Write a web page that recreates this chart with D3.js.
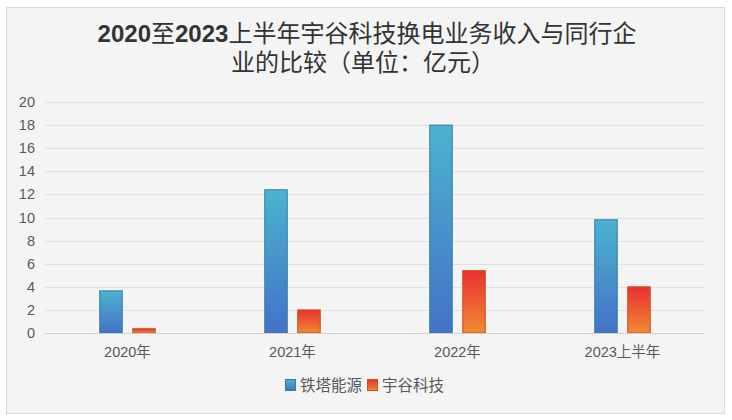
<!DOCTYPE html>
<html>
<head>
<meta charset="utf-8">
<script src="https://cdn.jsdelivr.net/npm/d3@7"></script>
<style>
  body { margin: 0; background: #fff; }
  svg text { font-family: "Liberation Sans", "Noto Sans CJK SC", sans-serif; }
</style>
</head>
<body>
<svg id="chart" width="732" height="420"></svg>
<script>
// data
var categories = ["2020年", "2021年", "2022年", "2023上半年"];
var seriesNames = ["铁塔能源", "宇谷科技"];
var tieta = [3.65, 12.4, 18.0, 9.8];
var yugu = [0.37, 2.0, 5.4, 4.0];
var yTicks = [0, 2, 4, 6, 8, 10, 12, 14, 16, 18, 20];
var titleLines = ["2020至2023上半年宇谷科技换电业务收入与同行企", "业的比较（单位：亿元）"];

var svg = d3.select("#chart"),
    margin = { left: 45, right: 27, top: 102, bottom: 87 },
    width = 732 - margin.left - margin.right,
    height = 420 - margin.top - margin.bottom;

var defs = svg.append("defs");
function addGrad(id, top, bottom) {
    var g = defs.append("linearGradient").attr("id", id)
        .attr("x1", 0).attr("y1", 0).attr("x2", 0).attr("y2", 1);
    g.append("stop").attr("offset", "0%").attr("stop-color", top);
    g.append("stop").attr("offset", "100%").attr("stop-color", bottom);
}
addGrad("gBlue", "#4bb3cf", "#4472c8");
addGrad("gOrange", "#ea3030", "#f08a33");

var series = [
    { name: seriesNames[0], values: tieta, fill: "url(#gBlue)", stroke: "#2f7fa3" },
    { name: seriesNames[1], values: yugu, fill: "url(#gOrange)", stroke: "#cf4e1c" }
];

// frame
svg.append("rect")
    .attr("x", 6.5).attr("y", 7.5).attr("width", 718).attr("height", 406)
    .attr("fill", "#f4f4f4").attr("stroke", "#d9d9d9").attr("stroke-width", 1);

// title
var title = svg.append("text")
    .attr("text-anchor", "middle")
    .attr("fill", "#333")
    .style("font-size", "24px");
titleLines.forEach(function (line, i) {
    var t = title.append("tspan")
        .attr("x", i === 0 ? 367 : 363)
        .attr("y", i === 0 ? 42 : 71);
    line.split(/(\d+)/).filter(function (s) { return s.length; }).forEach(function (part) {
        t.append("tspan")
            .style("font-weight", /^\d+$/.test(part) ? "bold" : "normal")
            .text(part);
    });
});

var main = svg.append("g").attr("transform", "translate(" + margin.left + "," + margin.top + ")");

var x0 = d3.scaleBand().domain(categories).range([0, width]);
var y = d3.scaleLinear().domain([0, 20]).range([height, 0]);
var barW = 22.5, gap = 10.5;

// grid
main.append("g").selectAll("line").data(yTicks.slice(1)).enter().append("line")
    .attr("x1", 0).attr("x2", width)
    .attr("y1", function (d) { return Math.round(y(d)) + 0.5; })
    .attr("y2", function (d) { return Math.round(y(d)) + 0.5; })
    .attr("stroke", "#e0e0e0").attr("stroke-width", 1);

// y labels
main.append("g").selectAll("text").data(yTicks).enter().append("text")
    .attr("x", -10)
    .attr("y", function (d) { return y(d); })
    .attr("dy", "0.35em")
    .attr("text-anchor", "end")
    .attr("fill", "#595959")
    .style("font-size", "14.5px")
    .text(function (d) { return d; });

// bars
var groupW = barW * 2 + gap;
series.forEach(function (s, si) {
    main.append("g").selectAll("rect").data(s.values).enter().append("rect")
        .attr("x", function (d, i) {
            return x0(categories[i]) + (x0.bandwidth() - groupW) / 2 + si * (barW + gap);
        })
        .attr("y", function (d) { return y(d); })
        .attr("width", barW)
        .attr("height", function (d) { return height - y(d); })
        .attr("fill", s.fill)
        .attr("stroke", s.stroke)
        .attr("stroke-width", 1);
});

// x axis line
main.append("line")
    .attr("x1", 0).attr("x2", width)
    .attr("y1", height + 0.5).attr("y2", height + 0.5)
    .attr("stroke", "#d0d0d0").attr("stroke-width", 1);

// x labels
main.append("g").selectAll("text").data(categories).enter().append("text")
    .attr("x", function (d) { return x0(d) + x0.bandwidth() / 2; })
    .attr("y", height + 24)
    .attr("text-anchor", "middle")
    .attr("fill", "#595959")
    .style("font-size", "14.5px")
    .text(function (d) { return d; });

// legend
var legend = svg.append("g").attr("transform", "translate(285,379)");
var lx = 0;
series.forEach(function (s) {
    var g = legend.append("g").attr("transform", "translate(" + lx + ",0)");
    g.append("rect").attr("x", 0.5).attr("y", 0.5).attr("width", 10).attr("height", 11)
        .attr("fill", s.fill).attr("stroke", s.stroke);
    var t = g.append("text").attr("x", 15).attr("y", 12)
        .attr("fill", "#595959").style("font-size", "15.5px").text(s.name);
    lx += 15 + t.node().getComputedTextLength() + 5;
});
</script>
</body>
</html>
